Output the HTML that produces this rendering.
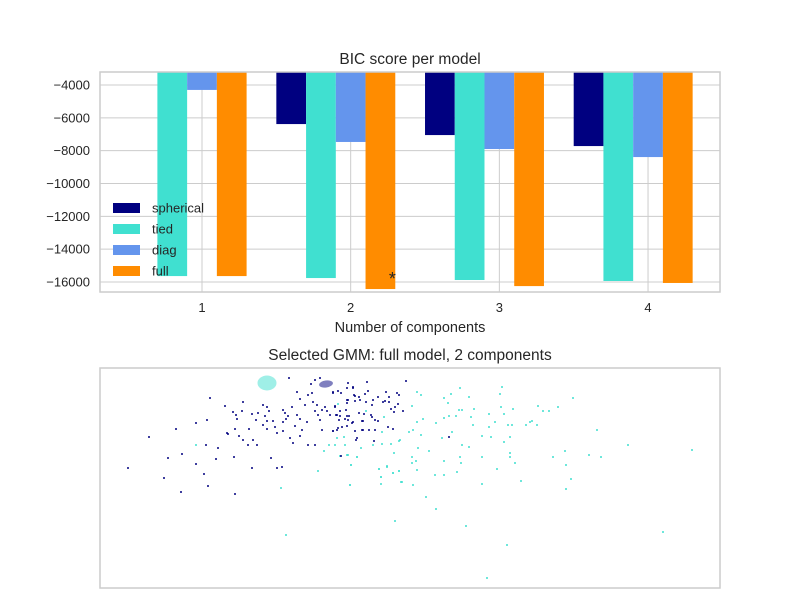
<!DOCTYPE html>
<html><head><meta charset="utf-8"><style>
body{margin:0;background:#fff;font-family:"Liberation Sans","DejaVu Sans",sans-serif}
svg text{font-family:"Liberation Sans","DejaVu Sans",sans-serif;fill:#262626}
</style></head><body>
<svg id="c" width="800" height="600" xmlns="http://www.w3.org/2000/svg">
<defs><clipPath id="cp1"><rect x="100" y="72" width="620" height="220"/></clipPath>
<clipPath id="cp2"><rect x="100" y="368" width="620" height="220"/></clipPath></defs>
<rect x="0" y="0" width="800" height="600" fill="#fff"/>
<g id="topPanel"></g>
<g id="botPanel"></g>
</svg>
<script>
const components=[1,2,3,4];
const sphericalBIC=[-3208,-6380,-7050,-7720];
const tiedBIC=[-15640,-15760,-15880,-15940];
const diagBIC=[-4300,-7470,-7900,-8390];
const fullBIC=[-15640,-16430,-16250,-16060];
const yTicks=[-4000,-6000,-8000,-10000,-12000,-14000,-16000];
const seriesNames=['spherical','tied','diag','full'];
const seriesColors=['#000080','#40e0d0','#6495ed','#ff8c00'];
const navyX=[210,149,128,164,181,176,168,196,207,196,206,204,208,182,218,216,234,235,225,243,252,271,277,282,289,315,311,348,367,406,333,338,347,353,354,359,365,368,366,373,378,386,389,397,399,347,348,355,335,346,359,372,383,385,389,391,395,398,403,394,336,340,349,364,371,372,339,345,353,363,375,378,333,338,342,347,355,362,369,375,388,393,356,374,341,449,227,228,235,239,243,248,249,253,257,236,237,233,242,252,256,258,263,267,269,265,267,263,267,273,275,277,283,285,283,286,288,283,290,293,295,297,300,292,297,300,305,308,312,313,315,317,318,320,322,325,327,330,322,307,302,300,308,315,333,337,335,337,340,347,355,360,347,348,352,357,362,363,341,353,333,320];
const navyY=[398,437,468,478,492,429,458,423,420,464,445,474,486,454,448,459,457,494,406,402,468,458,468,467,378,380,384,383,382,381,392,391,388,387,395,397,394,391,402,400,397,392,397,393,395,403,400,401,407,410,413,405,402,401,402,409,407,404,411,412,415,416,416,414,415,417,420,419,422,421,420,421,431,428,427,426,431,430,430,430,427,429,440,441,456,437,433,434,429,436,440,445,429,440,445,415,419,412,411,414,420,413,405,407,411,416,421,425,429,421,427,433,410,413,422,419,416,431,438,443,426,415,419,407,392,399,405,395,393,402,411,405,415,420,410,407,411,415,430,422,430,436,445,445,431,430,406,415,411,400,396,400,416,420,423,438,421,430,393,388,393,378];
const cyanX=[417,421,444,451,460,469,502,500,573,412,448,459,462,474,501,513,538,543,549,558,423,436,444,449,456,471,489,495,504,417,409,413,421,442,452,473,482,489,491,508,512,526,530,532,537,597,628,692,462,469,504,510,400,391,382,418,429,412,416,412,444,460,461,482,510,510,515,553,565,566,589,601,571,566,521,497,482,457,444,435,417,413,402,393,399,387,381,379,381,350,351,347,357,361,345,344,337,335,426,436,395,466,507,663,487,196,281,318,350,324,329,340,348,357,351,379,387,381,393,399,401,394,399,382,373,338,366,384,286];
const cyanY=[392,395,398,394,388,397,387,394,398,406,403,410,410,409,407,409,406,411,411,407,419,423,418,416,416,417,414,422,414,422,432,430,435,438,432,425,436,427,437,425,425,425,422,421,425,430,445,450,445,447,442,437,440,444,444,448,451,457,461,463,461,457,463,457,453,457,463,457,451,465,455,457,479,489,481,469,484,472,475,475,470,485,482,473,471,466,477,469,484,485,465,455,457,448,445,437,438,445,497,509,521,526,545,532,578,445,488,471,485,451,445,456,455,457,465,469,467,477,473,471,482,453,441,432,445,404,411,417,535];
const barXDomain=[0.314,4.484], barYDomain=[-3208,-16610];
const scatXDomain=[100,720], scatYDomain=[368,588];
const NS='http://www.w3.org/2000/svg';
function mk(tag,attrs,parent){const e=document.createElementNS(NS,tag);for(const k in attrs)e.setAttribute(k,attrs[k]);parent.appendChild(e);return e;}
const X=v=>100+(v-barXDomain[0])/(barXDomain[1]-barXDomain[0])*620;
const Y=v=>72+(v-barYDomain[0])/(barYDomain[1]-barYDomain[0])*220;
const gTop=document.getElementById('topPanel');
let t;
components.forEach(c=>{const l=mk('line',{x1:X(c),x2:X(c),y1:72,y2:292,stroke:'#cccccc','stroke-width':1},gTop);


t=mk('text',{x:X(c),y:312,'font-size':13,'text-anchor':'middle'},gTop);t.textContent=c;

});
yTicks.forEach(v=>{const l=mk('line',{x1:100,x2:720,y1:Y(v),y2:Y(v),stroke:'#cccccc','stroke-width':1},gTop);


t=mk('text',{x:90,y:Y(v)+4.5,'font-size':13,'text-anchor':'end'},gTop);t.textContent='\u2212'+Math.abs(v);

});
const bars=mk('g',{'clip-path':'url(#cp1)'},gTop);
[sphericalBIC,tiedBIC,diagBIC,fullBIC].forEach((arr,i)=>{arr.forEach((v,j)=>{const xc=components[j]+0.2*(i-2);
const r=mk('rect',{x:X(xc-0.1),width:X(xc+0.1)-X(xc-0.1),y:Y(0),height:Y(v)-Y(0),fill:seriesColors[i]},bars);

});});
const f1=mk('rect',{x:100,y:72,width:620,height:220,fill:'none',stroke:'#cccccc','stroke-width':1.5},gTop);


let best=0;fullBIC.forEach((v,j)=>{if(v<fullBIC[best])best=j;});
t=mk('text',{x:X(components[best]+0.2)+12,y:Y(fullBIC[best])-4,'font-size':18,'text-anchor':'middle'},gTop);t.textContent='*';


seriesNames.forEach((n,i)=>{const yy=208+21*i;
const r=mk('rect',{x:113,y:yy-5,width:27,height:10,fill:seriesColors[i]},gTop);


t=mk('text',{x:152,y:yy+4.5,'font-size':13},gTop);t.textContent=n;

});
t=mk('text',{x:410,y:64,'font-size':15.5,'text-anchor':'middle'},gTop);t.textContent='BIC score per model';


t=mk('text',{x:410,y:332,'font-size':14.5,'text-anchor':'middle'},gTop);t.textContent='Number of components';


const gBot=document.getElementById('botPanel');
const SX=v=>100+(v-scatXDomain[0])/(scatXDomain[1]-scatXDomain[0])*620;
const SY=v=>368+(v-scatYDomain[0])/(scatYDomain[1]-scatYDomain[0])*220;
const pts=mk('g',{'clip-path':'url(#cp2)'},gBot);
cyanX.forEach((x,i)=>{const c=mk('circle',{cx:SX(x),cy:SY(cyanY[i]),r:1,fill:'#40e0d0'},pts);

});
navyX.forEach((x,i)=>{const c=mk('circle',{cx:SX(x),cy:SY(navyY[i]),r:1,fill:'#000080'},pts);

});
let e=mk('ellipse',{cx:SX(267),cy:SY(383),rx:9.5,ry:7.5,fill:'#40e0d0','fill-opacity':0.5},pts);


e=mk('ellipse',{cx:SX(326),cy:SY(384),rx:7,ry:3.5,fill:'#000080','fill-opacity':0.5,transform:'rotate(-8 '+SX(326)+' '+SY(384)+')'},pts);


const f2=mk('rect',{x:100,y:368,width:620,height:220,fill:'none',stroke:'#cccccc','stroke-width':1.5},gBot);


t=mk('text',{x:410,y:360,'font-size':15.5,'text-anchor':'middle'},gBot);t.textContent='Selected GMM: full model, 2 components';


</script>
</body></html>
